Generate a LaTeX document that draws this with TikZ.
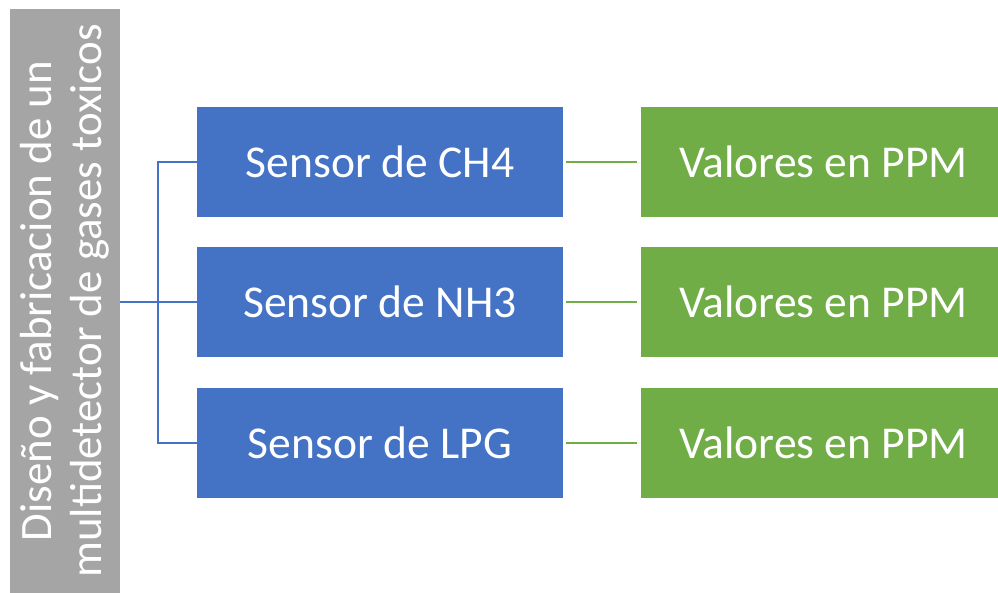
\documentclass[tikz,border=0pt]{standalone}
\usepackage{fontspec}
\setmainfont{Carlito}
\usepackage{tikz}
\usetikzlibrary{positioning, calc}
\definecolor{diagblue}{HTML}{4472C4}
\definecolor{diaggreen}{HTML}{70AD47}
\definecolor{diaggray}{HTML}{A5A5A5}

\begin{document}
\begin{tikzpicture}[
  x=0.75pt, y=-0.75pt,
  every node/.style={inner sep=0pt, text=white, font=\fontsize{34.2}{40}\selectfont},
  titlebox/.style={fill=diaggray, rotate=90, minimum width=438pt, minimum height=82.5pt, align=center, font=\fontsize{33.7}{37.5}\selectfont},
  sensorbox/.style={fill=diagblue, minimum width=274.5pt, minimum height=82.5pt},
  valuebox/.style={fill=diaggreen, minimum width=268.5pt, minimum height=82.5pt, text depth=0pt},
  bline/.style={draw=diagblue, line width=1.5pt},
  gline/.style={draw=diaggreen, line width=1.5pt, shorten <=2.25pt, shorten >=2.25pt}
]
\useasboundingbox (0,0) rectangle (998,592);
\node[titlebox] (title) at (65,301) {Diseño y fabricacion de un\\ multidetector de gases toxicos};
\node[sensorbox] (s1) at (380,162) {Sensor de CH4};
\node[sensorbox] (s2) at (380,302) {Sensor de NH3};
\node[sensorbox] (s3) at (380,443) {Sensor de LPG};
\foreach \i in {1,2,3}
  \node[valuebox, right=57.75pt of s\i] (v\i) {\hspace{6pt}Valores en PPM};
\coordinate (fork) at (158,302);
\draw[bline] (title.south |- fork) -- (fork);
\foreach \i in {1,2,3} {
  \draw[bline] (fork) |- (s\i.west);
  \draw[gline] (s\i.east) -- (v\i.west);
}
\end{tikzpicture}
\end{document}
